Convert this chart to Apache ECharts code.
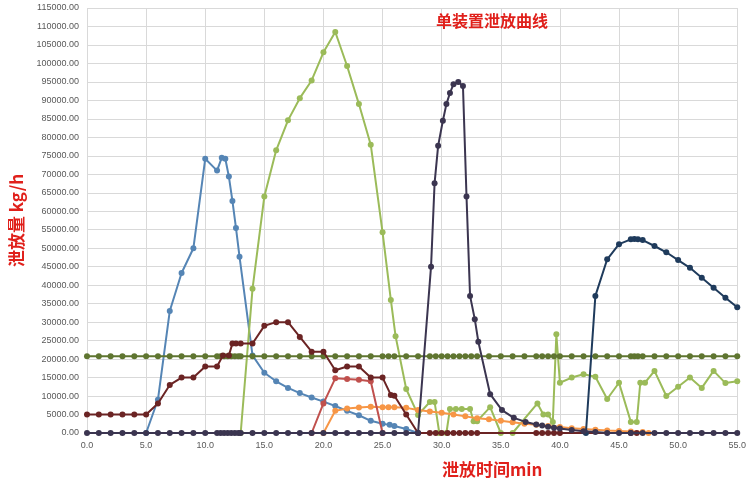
<!DOCTYPE html>
<html><head><meta charset="utf-8">
<script src="https://cdn.jsdelivr.net/npm/echarts@6/dist/echarts.min.js"></script>
<style>html,body{margin:0;padding:0;background:#fff;overflow:hidden}#c{width:749px;height:485px}</style>
</head><body><div id="c"></div>
<script>
const blue=[[5,0],[6,9000],[7,33000],[8,43300],[9,50000],[10,74200],[11,71000],[11.4,74500],[11.7,74200],[12,69400],[12.3,62800],[12.6,55500],[12.9,47700],[14,21000],[15,16300],[16,14000],[17,12200],[18,10800],[19,9600],[20,8500],[21,7300],[22,6000],[23,4800],[24,3300],[25,2500],[25.6,2200],[26,1900],[27,1100],[28,0]];
const lightGreen=[[13,0],[14,39000],[15,64000],[16,76500],[17,84600],[18,90600],[19,95400],[20,103000],[21,108500],[22,99300],[23,89000],[24,78000],[25,54300],[25.7,36000],[26.1,26200],[27,11900],[28,4900],[29,8400],[29.4,8400],[29.8,0],[30.4,0],[30.7,6500],[31.2,6500],[31.7,6500],[32.4,6500],[32.7,3200],[33,3200],[34.1,7000],[35,0],[36,0],[38.1,8000],[38.6,5000],[39,5000],[39.4,3000],[39.7,26700],[40,13600],[41,15000],[42,15900],[43,15200],[44,9200],[45,13600],[46,3000],[46.5,3000],[46.8,13600],[47.2,13600],[48,16800],[49,10000],[50,12500],[51,15000],[52,12200],[53,16800],[54,13500],[55,14000]];
const oliveX=[0,1,2,3,4,5,6,7,8,9,10,11,11.3,11.6,11.9,12.2,12.5,12.8,13,14,15,16,17,18,19,20,21,22,23,24,25,25.5,26,27,28,29,29.5,30,30.5,31,31.5,32,32.5,33,34,35,36,37,38,38.5,39,39.5,40,41,42,43,44,45,46,46.3,46.6,47,48,49,50,51,52,53,54,55];
const oliveValue=20800;
const darkRed=[[0,5000],[1,5000],[2,5000],[3,5000],[4,5000],[5,5000],[6,8000],[7,13000],[8,15000],[9,15000],[10,18000],[11,18000],[11.5,21000],[12,21000],[12.3,24200],[12.6,24200],[13,24200],[14,24200],[15,29000],[16,30000],[17,30000],[18,26000],[19,22000],[20,22000],[21,17000],[22,18000],[23,18000],[24,15000],[25,15000],[25.7,10300],[26,10100],[27,5000],[28,0],[29,0],[29.5,0],[30,0],[30.5,0],[31,0],[31.5,0],[32,0],[32.5,0],[33,0],[38,0],[38.5,0],[39,0],[39.5,0],[40,0],[46,0],[46.5,0]];
const pink=[[19,0],[20,8000],[21,14800],[22,14600],[23,14400],[24,14000],[25,0]];
const orange=[[20,0],[21,6000],[22,6600],[23,6900],[24,7100],[25,7000],[25.5,7000],[26,7000],[27,6800],[28,6200],[29,5800],[30,5500],[31,5000],[32,4500],[33,4000],[34,3700],[35,3300],[36,2900],[37,2500],[38,2200],[39,1900],[40,1600],[41,1300],[42,1100],[43,900],[44,700],[45,550],[46,400],[47,250],[47.5,0]];
const purple=[[0,0],[1,0],[2,0],[3,0],[4,0],[5,0],[6,0],[7,0],[8,0],[9,0],[10,0],[11,0],[11.3,0],[11.6,0],[11.9,0],[12.2,0],[12.5,0],[12.8,0],[13,0],[14,0],[15,0],[16,0],[17,0],[18,0],[19,0],[20,0],[21,0],[22,0],[23,0],[24,0],[25,0],[26,0],[27,0],[28,0],[29.1,45000],[29.4,67600],[29.7,77700],[30.1,84500],[30.4,89000],[30.7,92000],[31,94400],[31.4,95000],[31.8,93900],[32.1,64000],[32.4,37100],[32.8,30800],[33.1,24700],[34.1,10500],[35.1,6200],[36.1,4100],[37.1,3000],[38,2300],[38.5,2000],[39,1700],[39.5,1400],[40,1200],[41,800],[42,500],[43,300],[44,0],[45,0],[46,0],[47,0],[48,0],[49,0],[50,0],[51,0],[52,0],[53,0],[54,0],[55,0]];
const navy=[[42.2,0],[43,37100],[44,47000],[45,51100],[46,52400],[46.3,52500],[46.6,52400],[47,52200],[48,50600],[49,48900],[50,46800],[51,44700],[52,42000],[53,39300],[54,36600],[55,34000]];

const mk=(name,data,color,z)=>({name,type:'line',data,z,symbol:'circle',symbolSize:6,
  lineStyle:{color,width:2},itemStyle:{color},animation:false});
const chart=echarts.init(document.getElementById('c'));
chart.setOption({
  animation:false,
  title:{text:'单装置泄放曲线',left:487,top:8,textAlign:'center',
    textStyle:{color:'#e0201b',fontSize:16,fontWeight:'bold',fontFamily:'Noto Sans CJK SC'}},
  grid:{left:81,top:8,width:673,bottom:52},
  xAxis:{type:'value',min:0,max:55,interval:5,
    name:'泄放时间min',nameLocation:'middle',nameGap:28,
    nameTextStyle:{color:'#e0201b',fontSize:17,fontWeight:'bold',fontFamily:'Noto Sans CJK SC',padding:[0,0,0,160]},
    axisLine:{show:false},axisTick:{show:false},
    axisLabel:{color:'#595959',fontSize:9,formatter:v=>v.toFixed(1)},
    splitLine:{lineStyle:{color:'#d9d9d9'}}},
  yAxis:{type:'value',min:0,max:115000,interval:5000,
    name:'泄放量 kg/h',nameLocation:'middle',nameGap:62,
    nameTextStyle:{color:'#e0201b',fontSize:17,fontWeight:'bold',fontFamily:'Noto Sans CJK SC'},
    axisLine:{show:false},axisTick:{show:false},
    axisLabel:{color:'#595959',fontSize:9,formatter:v=>v.toFixed(2)},
    splitLine:{lineStyle:{color:'#d9d9d9'}}},
  series:[
    mk('blue',blue,'#5585b5',3),
    mk('lightGreen',lightGreen,'#9bbb59',4),
    mk('olive',oliveX.map(x=>[x,oliveValue]),'#5f7530',5),
    mk('orange',orange,'#f79646',6),
    mk('pink',pink,'#c0504d',6),
    mk('darkRed',darkRed,'#6b2424',7),
    mk('navy',navy,'#1f3b5c',8),
    mk('purple',purple,'#3b3550',9)
  ]
});
</script></body></html>
